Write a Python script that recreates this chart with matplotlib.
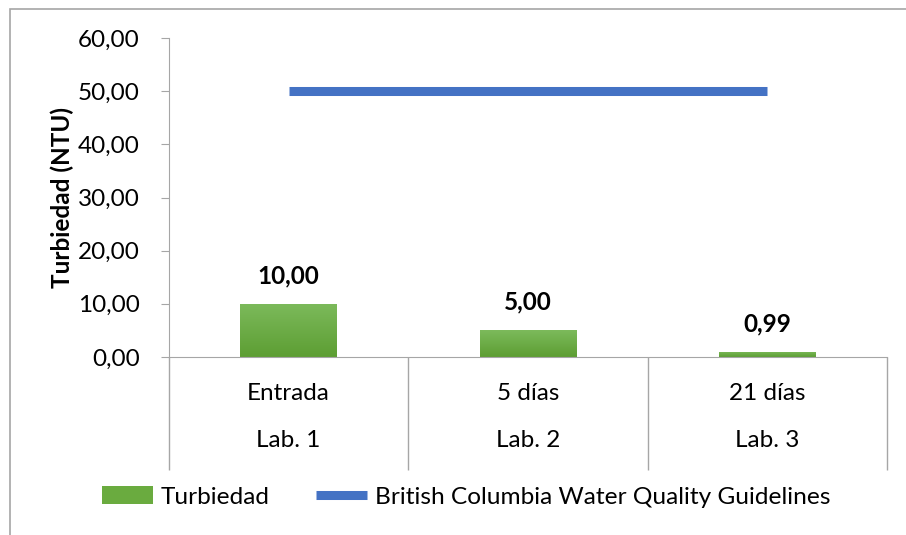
import numpy as np
import matplotlib.pyplot as plt
from matplotlib.patches import Rectangle
from matplotlib.colors import LinearSegmentedColormap

# Data
categories = ["Entrada", "5 días", "21 días"]
labs = ["Lab. 1", "Lab. 2", "Lab. 3"]
turbiedad = [10.00, 5.00, 0.99]
guideline = [50.0, 50.0, 50.0]

plt.rcParams['font.family'] = ['Lato', 'DejaVu Sans']
FS = 17.5

fig = plt.figure(figsize=(9.06, 5.35), dpi=100)
ax = fig.add_axes([169 / 906, 1 - 357 / 535, (887 - 169) / 906, (357 - 38) / 535])

x = np.arange(len(categories))
bars = ax.bar(x, turbiedad, width=0.405, color='#6aab3f', zorder=2, label='Turbiedad')

# vertical gradient on bars, like the Excel fill
grad = np.linspace(0, 1, 100).reshape(-1, 1)
cmap = LinearSegmentedColormap.from_list('g', ['#5d9e33', '#7cba5b'])
for b in bars:
    im = ax.imshow(grad, extent=[b.get_x(), b.get_x() + b.get_width(), 0, b.get_height()],
                   origin='lower', cmap=cmap, aspect='auto', zorder=2)
    im.set_clip_path(b)

line, = ax.plot(x, guideline, color='#4472c4', lw=6.5, solid_capstyle='butt', zorder=3,
                label='British Columbia Water Quality Guidelines')

for xi, v in zip(x, turbiedad):
    ax.annotate(f"{v:.2f}".replace('.', ','), (xi, v), xytext=(0, 12),
                textcoords='offset points', ha='center', va='bottom',
                fontsize=FS, fontweight='bold')

ax.set_xlim(-0.5, 2.5)
ax.set_ylim(0, 60)
ax.set_yticks(range(0, 61, 10))
ax.set_yticklabels([f"{t},00" for t in range(0, 61, 10)], fontsize=FS)
ax.tick_params(axis='y', length=6, color='#a6a6a6', pad=15)
ax.set_ylabel('Turbiedad (NTU)', fontsize=FS, fontweight='bold', va='center')
ax.yaxis.set_label_coords(-0.149, 0.5)

# category separators of the two-level axis
ax.set_xticks([-0.5, 0.5, 1.5, 2.5])
ax.set_xticklabels([])
ax.tick_params(axis='x', length=81, color='#a6a6a6', width=1)
trans = ax.get_xaxis_transform()
for xi, c, l in zip(x, categories, labs):
    ax.text(xi, -0.113, c, transform=trans, ha='center', va='center', fontsize=FS)
    ax.text(xi, -0.263, l, transform=trans, ha='center', va='center', fontsize=FS)

for s in ['top', 'right']:
    ax.spines[s].set_visible(False)
ax.spines['left'].set_color('#a6a6a6')
ax.spines['bottom'].set_color('#a6a6a6')

fig.legend([bars, line], ['Turbiedad', 'British Columbia Water Quality Guidelines'],
           loc='center', bbox_to_anchor=(466 / 906, 1 - 497 / 535), ncol=2,
           frameon=False, fontsize=17.6, handlelength=2.1, handletextpad=0.3,
           columnspacing=1.9)

# outer chart frame (clipped at right and bottom)
fig.patches.append(Rectangle((10 / 906, -0.1), 1.2, 1.1 - 9 / 535,
                             transform=fig.transFigure, fill=False,
                             edgecolor='#a6a6a6', lw=1.2))

fig.savefig('out.png', dpi=100)
